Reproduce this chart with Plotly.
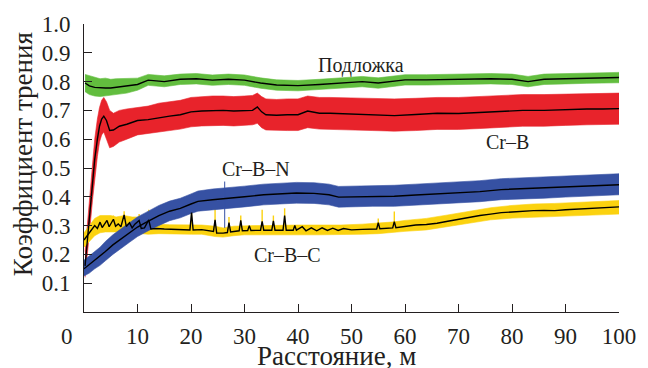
import plotly.graph_objects as go

# ---------------- data ----------------
# Подложка (substrate) – green
G_x = [0.2, 1, 2, 3, 4, 5, 6, 8, 10, 12, 15, 18, 21, 24, 27, 30, 33, 36, 40, 44,
       48, 52, 55, 57, 60, 64, 68, 72, 76, 80, 83, 86, 90, 94, 97, 100]
G_mean = [0.795, 0.785, 0.78, 0.778, 0.778, 0.778, 0.78, 0.785, 0.79, 0.805,
          0.80, 0.808, 0.81, 0.805, 0.808, 0.805, 0.795, 0.788, 0.786, 0.79,
          0.796, 0.80, 0.795, 0.80, 0.806, 0.806, 0.808, 0.808, 0.81, 0.808,
          0.80, 0.808, 0.81, 0.812, 0.812, 0.814]
G_upper = [0.825, 0.82, 0.815, 0.81, 0.812, 0.808, 0.81, 0.812, 0.812, 0.825,
           0.82, 0.826, 0.828, 0.823, 0.826, 0.823, 0.813, 0.806, 0.804, 0.808,
           0.814, 0.818, 0.813, 0.818, 0.824, 0.824, 0.826, 0.826, 0.828, 0.826,
           0.818, 0.826, 0.828, 0.83, 0.83, 0.832]
G_lower = [0.765, 0.755, 0.75, 0.748, 0.75, 0.752, 0.755, 0.76, 0.77, 0.787,
           0.782, 0.79, 0.792, 0.787, 0.79, 0.787, 0.777, 0.77, 0.768, 0.772,
           0.778, 0.782, 0.777, 0.782, 0.788, 0.788, 0.79, 0.79, 0.792, 0.79,
           0.782, 0.79, 0.792, 0.794, 0.794, 0.796]

# Cr–B – red
R_x = [0.2, 0.6, 1.1, 1.6, 2.0, 2.5, 2.9, 3.3, 3.7, 4.2,
       4.8, 5.5, 6.6, 8, 10, 12, 14, 16, 18, 20,
       22, 24, 26, 28, 30, 31.5, 32.4, 33.2, 34, 36,
       38, 40, 41.8, 44, 46, 50, 54, 58, 62, 66,
       70, 74, 78, 82, 86, 90, 94, 97, 100]
R_mean = [0.16, 0.24, 0.35, 0.45, 0.53, 0.60, 0.645, 0.67, 0.68, 0.665,
          0.63, 0.632, 0.645, 0.652, 0.665, 0.668, 0.675, 0.68, 0.685, 0.695,
          0.698, 0.70, 0.70, 0.698, 0.70, 0.70, 0.712, 0.695, 0.685, 0.683,
          0.685, 0.685, 0.698, 0.69, 0.69, 0.687, 0.685, 0.682, 0.686, 0.69,
          0.689, 0.692, 0.695, 0.70, 0.70, 0.703, 0.705, 0.705, 0.706]
R_upper = [0.21, 0.30, 0.42, 0.52, 0.60, 0.67, 0.71, 0.735, 0.745, 0.73,
           0.70, 0.69, 0.70, 0.705, 0.71, 0.715, 0.725, 0.73, 0.735, 0.745,
           0.748, 0.75, 0.75, 0.748, 0.75, 0.752, 0.76, 0.748, 0.74, 0.738,
           0.74, 0.74, 0.75, 0.745, 0.745, 0.743, 0.742, 0.74, 0.742, 0.745,
           0.745, 0.748, 0.75, 0.755, 0.755, 0.757, 0.758, 0.758, 0.76]
R_lower = [0.12, 0.19, 0.29, 0.39, 0.46, 0.54, 0.59, 0.615, 0.625, 0.60,
           0.57, 0.575, 0.59, 0.60, 0.615, 0.62, 0.625, 0.63, 0.635, 0.643,
           0.646, 0.648, 0.648, 0.646, 0.648, 0.65, 0.655, 0.64, 0.632, 0.63,
           0.63, 0.63, 0.64, 0.635, 0.635, 0.632, 0.63, 0.628, 0.63, 0.634,
           0.634, 0.637, 0.64, 0.645, 0.645, 0.648, 0.65, 0.65, 0.652]

# Cr–B–N – blue
B_x = [0, 1, 2, 3, 4, 5.4, 7, 8.5, 10, 11.5,
       13, 14, 16, 18, 20, 21.3, 24, 27.4, 30, 33.6,
       36, 39.7, 43, 45.8, 47.6, 50.7, 54, 58, 62, 66,
       70, 74, 78, 82, 86, 90, 94, 97, 100]
B_mean = [0.15, 0.165, 0.18, 0.192, 0.21, 0.233, 0.255, 0.275, 0.295, 0.31,
          0.325, 0.335, 0.35, 0.36, 0.375, 0.384, 0.39, 0.395, 0.40, 0.407,
          0.41, 0.413, 0.412, 0.407, 0.399, 0.40, 0.402, 0.402, 0.406, 0.41,
          0.414, 0.418, 0.425, 0.428, 0.43, 0.434, 0.438, 0.44, 0.442]
B_upper = [0.18, 0.195, 0.21, 0.225, 0.245, 0.268, 0.29, 0.31, 0.33, 0.345,
           0.36, 0.37, 0.385, 0.395, 0.41, 0.42, 0.427, 0.432, 0.437, 0.444,
           0.447, 0.45, 0.449, 0.444, 0.436, 0.437, 0.44, 0.44, 0.444, 0.448,
           0.452, 0.456, 0.463, 0.466, 0.468, 0.472, 0.476, 0.478, 0.48]
B_lower = [0.125, 0.135, 0.15, 0.162, 0.178, 0.2, 0.222, 0.242, 0.262, 0.277,
           0.292, 0.302, 0.317, 0.327, 0.342, 0.35, 0.355, 0.36, 0.365, 0.372,
           0.375, 0.378, 0.377, 0.372, 0.364, 0.365, 0.367, 0.367, 0.371, 0.375,
           0.379, 0.383, 0.39, 0.393, 0.395, 0.399, 0.403, 0.405, 0.407]
B_spike_x = [26.3]
B_spike_low = [0.292]
B_spike_top = [0.453]

# Cr–B–C – yellow
Y_x = [0, 0.5, 1, 1.5, 2, 2.5, 3, 3.4, 3.9, 4.3,
       4.7, 5.2, 5.5, 5.9, 6.4, 6.9, 7.5, 7.9, 8.5, 9.0,
       9.5, 10.3, 10.7, 11.3, 12.1, 12.5, 13.5, 15, 17, 19.8,
       20.1, 20.4, 22, 24.2, 24.5, 24.8, 26, 26.8, 27.1, 27.4,
       29.0, 29.3, 29.6, 30.6, 30.9, 31.2, 33.0, 33.3, 33.6, 35.1,
       35.4, 35.7, 37.2, 37.5, 37.8, 39.1, 39.4, 39.7, 40.8, 41.5,
       42.5, 43.5, 44.5, 45.5, 46.5, 47.5, 48.5, 50, 52, 54.7,
       55, 55.3, 57.7, 58, 58.3, 60, 62, 64, 66, 68,
       70, 72, 74, 76, 78, 80, 82, 84, 86, 88,
       90, 92, 94, 96, 98, 100]
Y_mean = [0.25, 0.262, 0.275, 0.29, 0.30, 0.29, 0.312, 0.293, 0.305, 0.318,
          0.296, 0.31, 0.322, 0.298, 0.306, 0.296, 0.337, 0.297, 0.31, 0.292,
          0.305, 0.318, 0.29, 0.292, 0.32, 0.288, 0.29, 0.288, 0.286, 0.285,
          0.345, 0.285, 0.286, 0.28, 0.32, 0.274, 0.274, 0.276, 0.31, 0.278,
          0.282, 0.318, 0.282, 0.283, 0.30, 0.283, 0.284, 0.315, 0.284, 0.284,
          0.316, 0.284, 0.284, 0.335, 0.284, 0.284, 0.30, 0.284, 0.296, 0.282,
          0.292, 0.282, 0.292, 0.283, 0.291, 0.283, 0.29, 0.285, 0.287, 0.288,
          0.31, 0.289, 0.292, 0.314, 0.293, 0.298, 0.302, 0.304, 0.308, 0.315,
          0.322, 0.328, 0.335, 0.34, 0.345, 0.347, 0.35, 0.352, 0.353, 0.352,
          0.355, 0.357, 0.36, 0.36, 0.363, 0.365]
YB_x = [0, 1, 2, 3, 4, 5, 6, 7.5, 9, 10.3,
        12, 14, 16, 20.1, 22, 24.5, 26, 28, 30, 32,
        34, 37.5, 40, 44, 48, 52, 55, 58, 60, 64,
        68, 72, 76, 80, 84, 88, 92, 96, 100]
YB_upper = [0.275, 0.30, 0.325, 0.335, 0.335, 0.335, 0.33, 0.335, 0.33, 0.33,
            0.32, 0.305, 0.303, 0.303, 0.302, 0.298, 0.292, 0.298, 0.30, 0.30,
            0.30, 0.302, 0.302, 0.302, 0.302, 0.305, 0.308, 0.313, 0.318, 0.325,
            0.337, 0.35, 0.362, 0.37, 0.375, 0.377, 0.38, 0.383, 0.387]
YB_lower = [0.225, 0.245, 0.265, 0.275, 0.278, 0.278, 0.278, 0.278, 0.275, 0.272,
            0.27, 0.272, 0.272, 0.27, 0.27, 0.262, 0.26, 0.265, 0.268, 0.268,
            0.268, 0.268, 0.268, 0.268, 0.268, 0.27, 0.272, 0.276, 0.28, 0.285,
            0.295, 0.308, 0.32, 0.326, 0.33, 0.331, 0.334, 0.337, 0.34]
Y_spike_x = [3.0, 5.5, 7.5, 10.3, 12.1, 20.1, 24.5, 27.1, 29.3, 33.3, 35.4, 37.5, 55, 58]
Y_spike_top = [0.33, 0.335, 0.35, 0.34, 0.355, 0.37, 0.40, 0.33, 0.335, 0.355, 0.335, 0.36, 0.325, 0.349]
Y_spike_base = [0.29, 0.29, 0.29, 0.29, 0.285, 0.28, 0.275, 0.275, 0.28, 0.28, 0.28, 0.28, 0.285, 0.29]

X_TICKS = [10, 20, 30, 40, 50, 60, 70, 80, 90, 100]
Y_TICKS = [0.1, 0.2, 0.3, 0.4, 0.5, 0.6, 0.7, 0.8, 0.9, 1.0]
Y_TICK_TEXT = ["0.1", "0.2", "0.3", "0.4", "0.5", "0.6", "0.7", "0.8", "0.9", "1.0"]

LABELS = ["Подложка", "Cr–B", "Cr–B–N", "Cr–B–C"]
LABEL_X = [51.7, 79.1, 32.2, 38.1]
LABEL_Y = [0.857, 0.590, 0.497, 0.198]

# ---------------- styling ----------------
GREEN = "#62bd3e"
RED = "#e8232b"
BLUE = "#3651a3"
YELLOW = "#fbd20f"
INK = "#231f20"
FONT = "'Liberation Serif', 'Times New Roman', 'DejaVu Serif', serif"

fig = go.Figure()


def band(x, lo, hi, color):
    fig.add_trace(go.Scatter(
        x=list(x) + list(x)[::-1], y=list(hi) + list(lo)[::-1],
        fill="toself", fillcolor=color, mode="lines",
        line=dict(width=0.6, color=color), hoverinfo="skip", showlegend=False))


def spikes(xs, lo, hi, color, width):
    px, py = [], []
    for a, b, c in zip(xs, lo, hi):
        px += [a, a, None]
        py += [b, c, None]
    fig.add_trace(go.Scatter(x=px, y=py, mode="lines",
                             line=dict(color=color, width=width),
                             hoverinfo="skip", showlegend=False))


def mean_line(x, y):
    fig.add_trace(go.Scatter(x=x, y=y, mode="lines",
                             line=dict(color="black", width=1.4),
                             hoverinfo="skip", showlegend=False))


band(G_x, G_lower, G_upper, GREEN)
band(R_x, R_lower, R_upper, RED)
band(YB_x, YB_lower, YB_upper, YELLOW)
spikes(Y_spike_x, Y_spike_base, Y_spike_top, YELLOW, 1.4)
band(B_x, B_lower, B_upper, BLUE)
spikes(B_spike_x, B_spike_low, B_spike_top, BLUE, 1.0)

mean_line(G_x, G_mean)
mean_line(R_x, R_mean)
mean_line(Y_x, Y_mean)
mean_line(B_x, B_mean)

axis_common = dict(
    showline=True, linecolor=INK, linewidth=1, ticks="inside", ticklen=8,
    tickcolor=INK, tickwidth=1, showgrid=False, zeroline=False,
    tickfont=dict(family=FONT, size=23, color=INK),
)

fig.update_layout(
    width=648, height=368,
    margin=dict(l=84, r=20, t=24, b=56),
    paper_bgcolor="white", plot_bgcolor="white",
    font=dict(family=FONT, color=INK),
    xaxis=dict(range=[0, 100], tickvals=X_TICKS, ticklabelstandoff=3, **axis_common),
    yaxis=dict(range=[0, 1.0], tickvals=Y_TICKS, ticktext=Y_TICK_TEXT,
               ticklabelstandoff=8, **axis_common),
    showlegend=False,
)

ann_font = dict(family=FONT, size=20, color=INK)
fig.add_annotation(x=0, y=0, xref="x", yref="y", text="0", showarrow=False,
                   xshift=-17.5, yshift=-24, font=dict(family=FONT, size=23, color=INK))
for txt, lx, ly in zip(LABELS, LABEL_X, LABEL_Y):
    fig.add_annotation(x=lx, y=ly, xref="x", yref="y", text=txt, showarrow=False,
                       font=ann_font, xanchor="center", yanchor="middle")
fig.add_annotation(x=-0.114, y=0.548, xref="paper", yref="paper",
                   text="Коэффициент трения", textangle=-90, showarrow=False,
                   font=dict(family=FONT, size=27, color=INK),
                   xanchor="center", yanchor="middle")
fig.add_annotation(x=0.4724, y=-0.153, xref="paper", yref="paper",
                   text="Расстояние, м", showarrow=False,
                   font=dict(family=FONT, size=27, color=INK),
                   xanchor="center", yanchor="middle")

fig.write_html("out.html")
